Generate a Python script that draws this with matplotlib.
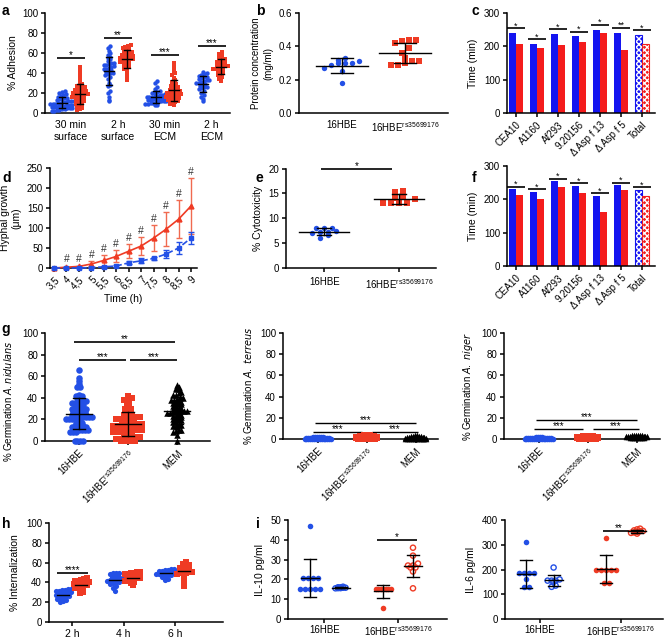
import numpy as np
import matplotlib
matplotlib.use('Agg')
import matplotlib.pyplot as plt

plt.rcParams['font.family'] = ['Liberation Sans', 'DejaVu Sans']
plt.rcParams['mathtext.default'] = 'regular'
plt.rcParams['font.size'] = 7
plt.rcParams['hatch.linewidth'] = 1.0

W, H = 669, 638
BLUE = '#2350e6'
RED = '#ef3b24'
BAR_BLUE = '#1414f0'
BAR_RED = '#f41c1c'
RS = '16HBE$^{rs35699176}$'

# ---- a: adhesion
adh_groups = ['30 min\nsurface', '2 h\nsurface', '30 min\nECM', '2 h\nECM']
adh_blue = [
    [22, 21, 20, 19, 18, 17, 16, 15, 15, 14, 13, 12, 12, 11, 11, 10, 10, 9, 9, 8,
     8, 8, 7, 7, 6, 6, 6, 5, 5, 4, 4, 3, 3, 2, 2, 12, 14, 9, 7, 5],
    [67, 65, 62, 60, 58, 56, 55, 54, 52, 50, 49, 48, 47, 46, 45, 44, 43, 42, 41, 40,
     39, 38, 36, 34, 30, 28, 27, 22, 20, 16, 13, 12, 48, 44, 50, 40],
    [32, 30, 26, 24, 22, 21, 20, 19, 18, 18, 17, 17, 16, 16, 15, 15, 14, 14, 13, 13,
     12, 12, 11, 11, 10, 10, 9, 9, 8, 8, 20, 16, 14, 12],
    [41, 40, 39, 38, 37, 36, 35, 34, 33, 32, 31, 30, 29, 28, 27, 26, 25, 24, 22, 20,
     18, 16, 14, 12, 36, 33, 30, 26],
]
adh_red = [
    [46, 42, 38, 34, 31, 29, 28, 27, 26, 25, 24, 23, 22, 22, 21, 20, 20, 19, 18, 18,
     17, 16, 15, 14, 13, 12, 11, 10, 9, 8, 7, 6, 5, 4, 3, 24, 19, 16, 13, 21],
    [68, 67, 66, 65, 64, 63, 62, 61, 60, 59, 58, 57, 56, 56, 55, 55, 54, 54, 53, 52,
     51, 50, 49, 48, 47, 46, 44, 42, 38, 34, 33, 60, 57, 52],
    [50, 46, 42, 40, 38, 35, 33, 31, 29, 28, 27, 26, 25, 24, 23, 22, 21, 20, 20, 19,
     18, 18, 17, 16, 16, 15, 14, 13, 12, 11, 10, 9, 8, 22, 19, 15, 13, 20],
    [61, 59, 57, 55, 54, 53, 52, 51, 50, 49, 48, 47, 46, 45, 45, 44, 43, 42, 41, 40,
     39, 38, 36, 34, 32, 47, 44, 50],
]
adh_sig = ['*', '**', '***', '***']

# ---- b: protein
prot_blue = [0.32, 0.30, 0.30, 0.30, 0.31, 0.33, 0.27, 0.25, 0.18, 0.29]
prot_red = [0.43, 0.44, 0.44, 0.42, 0.39, 0.36, 0.33, 0.31, 0.29, 0.29, 0.30, 0.31]

# ---- c / f: germination time
strains = ['CEA10', 'A1160', 'Af293', '9.20156', 'Δ Asp f 13', 'Δ Asp f 5', 'Total']
c_blue = [240, 207, 237, 230, 250, 241, 234]
c_red = [207, 196, 203, 212, 240, 190, 207]
c_sig = ['*', '*', '*', '*', '*', '**', '*']
f_blue = [230, 222, 254, 240, 210, 242, 228]
f_red = [214, 200, 237, 219, 162, 229, 209]
f_sig = ['*', '*', '*', '*', '*', '*', '*']

# ---- d: hyphal growth
times = [3.5, 4, 4.5, 5, 5.5, 6, 6.5, 7, 7.5, 8, 8.5, 9]
time_labels = ['3,5', '4', '4,5', '5', '5,5', '6', '6,5', '7', '7,5', '8', '8,5', '9']
hyph_red = [0, 2, 4, 10, 19, 29, 42, 55, 75, 97, 122, 155]
hyph_red_sd = [0, 1, 2, 8, 13, 15, 18, 23, 32, 42, 48, 70]
hyph_blue = [0, 0, 0, 1, 3, 5, 13, 18, 24, 35, 50, 75]
hyph_blue_sd = [0, 0, 0, 1, 2, 2, 4, 6, 3, 11, 16, 15]

# ---- e: cytotoxicity
cyto_blue = [7.3, 8.0, 8.0, 7.0, 7.5, 8.0, 7.2, 6.5, 6.0]
cyto_red = [13.8, 15.2, 14.5, 15.5, 14.0, 13.0, 13.0, 13.0, 13.0]

# ---- g: germination
germ_cats = ['16HBE', RS, 'MEM']
nid_blue = [66, 58, 56, 53, 50, 50, 43, 42, 42, 42, 40, 40, 37, 37, 37, 35, 35, 35,
            33, 33, 33, 33, 30, 30, 30, 30, 30, 30, 27, 27, 27, 27, 27, 24, 24, 24,
            24, 24, 24, 22, 22, 22, 22, 20, 20, 20, 20, 20, 20, 17, 17, 17, 14, 14,
            14, 14, 13, 13, 13, 13, 13, 13, 10, 10, 10, 10, 8, 8, 8, 0, 0, 0, 0]
nid_red = [42, 40, 40, 38, 38, 36, 36, 33, 33, 30, 30, 30, 27, 27, 27, 24, 24, 24,
           24, 22, 22, 22, 22, 20, 20, 20, 20, 20, 18, 18, 18, 18, 18, 16, 16, 16,
           16, 16, 14, 14, 14, 14, 14, 14, 12, 12, 12, 12, 12, 10, 10, 10, 10, 10,
           10, 8, 8, 8, 8, 8, 6, 6, 6, 6, 4, 4, 4, 4, 4, 2, 2, 2, 2, 0, 0, 0, 0, 0, 0]
nid_mem = [52, 50, 49, 48, 48, 45, 44, 43, 43, 40, 40, 39, 38, 38, 36, 36, 35, 35,
           34, 34, 32, 32, 31, 31, 30, 30, 28, 28, 28, 27, 27, 27, 26, 26, 24, 24,
           23, 23, 22, 22, 20, 20, 19, 19, 18, 18, 15, 15, 14, 14, 13, 10, 10, 9, 8,
           6, 0]
ter_blue = [0, 0, 0, 0, 0, 0, 0, 0, 0, 0, 0, 0, 0, 0, 0, 1, 1, 1, 1, 1, 1, 1, 1, 1,
            1, 1, 1, 1, 2, 2, 2, 2, 2, 2]
ter_red = [0, 0, 0, 0, 0, 0, 0, 0, 0, 0, 1, 1, 1, 1, 1, 1, 1, 1, 1, 1, 1, 1, 2, 2, 2,
           2, 2, 2, 2, 2, 2, 2, 2, 2, 3, 3, 3, 3, 3, 3, 3, 3, 4, 4, 4, 4]
ter_mem = [0, 0, 0, 0, 0, 0, 0, 0, 0, 0, 0, 0, 1, 1, 1, 1, 1, 1, 1, 1, 1, 1, 1, 1, 2,
           2, 2, 2, 2, 2, 2, 2, 2, 2, 3, 3, 3, 3, 3, 3, 4, 4]
nig_blue = [0, 0, 0, 0, 0, 0, 0, 0, 0, 0, 0, 0, 0, 0, 0, 0, 1, 1, 1, 1, 1, 1, 1, 1, 1,
            1, 1, 1, 1, 1, 2, 2, 2, 2]
nig_red = [0, 0, 0, 0, 0, 0, 0, 0, 0, 0, 1, 1, 1, 1, 1, 1, 1, 1, 1, 1, 1, 1, 2, 2, 2,
           2, 2, 2, 2, 2, 2, 2, 2, 2, 3, 3, 3, 3, 3, 3]
nig_mem = [1, 1, 1, 1, 1, 1, 1, 1, 2, 2, 2, 2, 2, 2, 2, 2, 2, 2, 2, 2, 3, 3, 3, 3, 3,
           3, 3, 3, 3, 3, 3, 3, 4, 4, 4, 4, 4, 4]

# ---- h: internalization
int_groups = ['2 h', '4 h', '6 h']
int_blue = [
    [33, 33, 32, 32, 31, 30, 30, 29, 28, 28, 27, 26, 25, 24, 23, 22, 21, 20, 31, 26],
    [50, 50, 49, 48, 47, 46, 45, 44, 44, 43, 43, 42, 41, 40, 40, 39, 38, 36, 34, 31],
    [54, 54, 53, 53, 52, 52, 51, 51, 50, 50, 49, 49, 48, 48, 47, 47, 46, 45, 43, 42],
]
int_red = [
    [44, 43, 42, 41, 40, 40, 39, 39, 38, 38, 37, 37, 36, 35, 34, 33, 32, 30, 29, 41],
    [51, 51, 50, 49, 48, 48, 47, 46, 46, 45, 45, 44, 44, 43, 42, 42, 41, 40, 39, 37],
    [61, 59, 58, 57, 56, 55, 54, 53, 52, 52, 51, 51, 50, 50, 49, 48, 47, 44, 39, 36],
]

# ---- i: cytokines (filled = first, open = second)
il10_blue_f = [47, 20.5, 20.5, 20.5, 20.5, 15.3, 15.3, 15.3, 15.3, 15.3]
il10_blue_o = [16.3, 16, 16, 15.8, 15.8, 15.6, 15.6, 15.5]
il10_red_f = [15.2, 15.2, 15.2, 15.2, 15.2, 15.2, 15.2, 5.7]
il10_red_o = [36, 32, 28, 27, 27, 26, 26, 24, 15.5]
il6_blue_f = [310, 185, 185, 185, 185, 160, 130, 128]
il6_blue_o = [208, 160, 155, 155, 150, 155, 135, 130]
il6_red_f = [328, 200, 200, 200, 200, 200, 145, 145]
il6_red_o = [365, 362, 358, 356, 355, 352, 350, 348, 345]


fig = plt.figure(figsize=(W / 100, H / 100), dpi=100)


def make_ax(box, xlim, ylim, yticks):
    l, t, r, b = box
    ax = fig.add_axes([l / W, 1 - b / H, (r - l) / W, (b - t) / H])
    ax.set_xlim(xlim)
    ax.set_ylim(ylim)
    ax.set_yticks(yticks)
    ax.spines['top'].set_visible(False)
    ax.spines['right'].set_visible(False)
    ax.spines['left'].set_linewidth(1.1)
    ax.spines['bottom'].set_linewidth(1.1)
    ax.tick_params(length=3, width=1.1, pad=2, labelsize=7)
    return ax


def unit(ax):
    bb = ax.get_position()
    x0, x1 = ax.get_xlim()
    y0, y1 = ax.get_ylim()
    return (x1 - x0) / (bb.width * W), (y1 - y0) / (bb.height * H)


def swarm(ax, xc, vals, color, marker='o', s=10, dx=3, dy=3, hollow=False):
    ux, uy = unit(ax)
    v = np.sort(np.asarray(vals, float))
    rows = np.round(v / (dy * uy)).astype(int)
    xs = np.zeros_like(v)
    for r in np.unique(rows):
        idx = np.where(rows == r)[0]
        xs[idx] = xc + (np.arange(len(idx)) - (len(idx) - 1) / 2) * dx * ux
    if hollow:
        ax.scatter(xs, v, s=s, marker=marker, facecolors='none', edgecolors=color,
                   linewidths=1, clip_on=False, zorder=3)
    else:
        ax.scatter(xs, v, s=s, marker=marker, color=color, lw=0, clip_on=False, zorder=3)


def mean_sd(ax, xc, vals, wm=5, wc=3, sd=True, lw=1):
    ux, _ = unit(ax)
    m = np.mean(vals)
    s = np.std(vals, ddof=1)
    ax.plot([xc - wm * ux, xc + wm * ux], [m, m], color='k', lw=lw, zorder=4)
    if sd:
        ax.plot([xc, xc], [m - s, m + s], color='k', lw=lw, zorder=4)
        for y in (m - s, m + s):
            ax.plot([xc - wc * ux, xc + wc * ux], [y, y], color='k', lw=lw, zorder=4)


def sig(ax, x1, x2, y, label, fs=7, lw=1.2):
    ax.plot([x1, x2], [y, y], color='k', lw=lw, clip_on=False, solid_capstyle='butt')
    ax.annotate(label, ((x1 + x2) / 2, y), xytext=(0, -1.5), textcoords='offset points',
                ha='center', va='bottom', fontsize=fs, annotation_clip=False)


def letter(x, y, s):
    fig.text(x / W, 1 - y / H, s, fontsize=10, fontweight='bold', va='top')


# ---------------- a
ax = make_ax((45, 13, 230, 113), (-0.55, 3.39), (0, 100), [0, 20, 40, 60, 80, 100])
sig_y = [55, 75, 58, 67]
for i in range(4):
    swarm(ax, i - 0.19, adh_blue[i], BLUE, 'o', s=10, dx=2.6, dy=3.5)
    swarm(ax, i + 0.19, adh_red[i], RED, 's', s=9, dx=2.6, dy=3.5)
    mean_sd(ax, i - 0.19, adh_blue[i], wm=5, wc=3)
    mean_sd(ax, i + 0.19, adh_red[i], wm=5, wc=3)
    sig(ax, i - 0.3, i + 0.3, sig_y[i], adh_sig[i])
ax.set_xticks(range(4))
ax.set_xticklabels(adh_groups, fontsize=7.5)
ax.tick_params(axis='x', length=0, pad=5)
ax.set_ylabel('% Adhesion', fontsize=7.5, labelpad=3)
letter(2, 4, 'a')

# ---------------- b
ax = make_ax((299, 13, 448, 113), (-0.68, 1.68), (0, 0.6), [0, 0.2, 0.4, 0.6])
swarm(ax, 0, prot_blue, BLUE, 'o', s=15, dx=7, dy=8)
swarm(ax, 1, prot_red, RED, 's', s=14, dx=7, dy=8)
mean_sd(ax, 0, prot_blue, wm=26, wc=11)
mean_sd(ax, 1, prot_red, wm=26, wc=11)
ax.set_xticks([0, 1])
ax.set_xticklabels(['16HBE', RS])
ax.tick_params(axis='x', length=0, pad=5)
ax.set_ylabel('Protein concentration\n(mg/ml)', fontsize=7)
letter(256, 4, 'b')


# ---------------- c / f
def bars(box, bv, rv, labels_sig, add):
    ax = make_ax(box, (-0.43, 6.62), (0, 300), [0, 100, 200, 300])
    x = np.arange(len(strains))
    ax.bar(x[:-1] - 0.17, bv[:-1], 0.32, color=BAR_BLUE, lw=0)
    ax.bar(x[:-1] + 0.17, rv[:-1], 0.32, color=BAR_RED, lw=0)
    ax.bar(x[-1] - 0.17, bv[-1], 0.32, color=BAR_BLUE, edgecolor='white', hatch='xxxxxx', lw=0)
    ax.bar(x[-1] + 0.17, rv[-1], 0.32, color=BAR_RED, edgecolor='white', hatch='xxxxxx', lw=0)
    ax.bar(x[-1] - 0.17, bv[-1], 0.32, fill=False, edgecolor=BAR_BLUE, lw=0.8)
    ax.bar(x[-1] + 0.17, rv[-1], 0.32, fill=False, edgecolor=BAR_RED, lw=0.8)
    for k in range(len(strains)):
        sig(ax, k - 0.42, k + 0.42, max(bv[k], rv[k]) + add, labels_sig[k], fs=6.5)
    ax.set_xticks(x)
    ax.set_xticklabels(strains, rotation=45, ha='right', rotation_mode='anchor')
    ax.set_ylabel('Time (min)', fontsize=7.5)
    return ax


bars((507, 13, 655, 113), c_blue, c_red, c_sig, 14)
letter(472, 4, 'c')
bars((507, 166, 655, 266), f_blue, f_red, f_sig, 8)
letter(472, 171, 'f')

# ---------------- d
ax = make_ax((50, 168, 197, 268), (3.34, 9.24), (0, 250), [0, 50, 100, 150, 200, 250])
ax.errorbar(times, hyph_red, yerr=hyph_red_sd, color=RED, ecolor='#f06a50', lw=1.2,
            marker='^', ms=3.5, capsize=2.5, elinewidth=1, clip_on=False, zorder=3)
ax.errorbar(times, hyph_blue, yerr=hyph_blue_sd, color=BLUE, lw=1.2, ls='--',
            marker='s', ms=3.5, capsize=2.5, elinewidth=1, clip_on=False, zorder=4)
for t, m, s in zip(times[1:], hyph_red[1:], hyph_red_sd[1:]):
    ax.text(t, max(m + s + 15, 22), '#', ha='center', va='center', fontsize=7.5,
            color='#333333', clip_on=False)
ax.set_xticks(times)
ax.set_xticklabels(time_labels, rotation=45, ha='right', rotation_mode='anchor')
ax.set_xlabel('Time (h)', fontsize=7.5, labelpad=2)
ax.set_ylabel('Hyphal growth\n(μm)', fontsize=7.5)
letter(2, 171, 'd')

# ---------------- e
ax = make_ax((286, 168.6, 436, 267.7), (-0.51, 1.49), (0, 20), [0, 5, 10, 15, 20])
swarm(ax, 0, cyto_blue, BLUE, 'o', s=15, dx=8, dy=6)
swarm(ax, 1, cyto_red, RED, 's', s=14, dx=8, dy=6)
mean_sd(ax, 0, cyto_blue, wm=25, wc=7)
mean_sd(ax, 1, cyto_red, wm=25, wc=7)
sig(ax, -0.04, 0.9, 20, '*')
ax.set_xticks([0, 1])
ax.set_xticklabels(['16HBE', RS])
ax.tick_params(axis='x', pad=4)
ax.set_ylabel('% Cytotoxicity', fontsize=7.5)
letter(256, 171, 'e')


# ---------------- g
def germ(box, xlim, b, r, m, ylabel, big):
    ax = make_ax(box, xlim, (0, 100), [0, 20, 40, 60, 80, 100])
    if big:
        swarm(ax, 0, b, BLUE, 'o', s=22, dx=2.9, dy=3.2)
        swarm(ax, 1, r, RED, 's', s=19, dx=2.9, dy=3.2)
        swarm(ax, 2, m, 'black', '^', s=22, dx=2.9, dy=3.2)
        for k, v in enumerate([b, r, m]):
            mean_sd(ax, k, v, wm=13, wc=6)
    else:
        swarm(ax, 0, b, BLUE, 'o', s=16, dx=1.9, dy=1.0)
        swarm(ax, 1, r, RED, 's', s=14, dx=1.9, dy=1.0)
        swarm(ax, 2, m, 'black', '^', s=16, dx=1.9, dy=1.0)
    ax.set_xticks([0, 1, 2])
    ax.set_xticklabels(germ_cats, rotation=45, ha='right', rotation_mode='anchor')
    ax.set_ylabel(ylabel, fontsize=7)
    return ax


ax = germ((45, 333, 210, 441), (-0.69, 2.67), nid_blue, nid_red, nid_mem,
          '% Germination $\\mathit{A.nidulans}$', True)
ax.yaxis.set_label_coords(-0.19, 0.37)
sig(ax, 0, 0.95, 75, '***')
sig(ax, 1.05, 2, 75, '***')
sig(ax, -0.1, 1.95, 92, '**')
letter(1, 322, 'g')

ax = germ((283, 333, 438, 439), (-0.71, 2.45), ter_blue, ter_red, ter_mem,
          '% Germination $\\mathit{A.}$ $\\mathit{terreus}$', False)
sig(ax, -0.1, 0.9, 6.3, '***', lw=1)
sig(ax, 1.1, 2.05, 6.8, '***', lw=1)
sig(ax, -0.05, 2.0, 15, '***', lw=1)

ax = germ((504, 333, 660, 439), (-0.71, 2.47), nig_blue, nig_red, nig_mem,
          '% Germination $\\mathit{A.}$ $\\mathit{niger}$', False)
sig(ax, -0.1, 0.9, 9, '***', lw=1)
sig(ax, 1.1, 2.05, 9.4, '***', lw=1)
sig(ax, -0.05, 2.0, 18, '***', lw=1)

# ---------------- h
ax = make_ax((49, 523, 223, 622), (-0.45, 2.93), (0, 100), [0, 20, 40, 60, 80, 100])
for i in range(3):
    swarm(ax, i - 0.175, int_blue[i], BLUE, 'o', s=14, dx=3, dy=3.5)
    swarm(ax, i + 0.175, int_red[i], RED, 's', s=13, dx=3, dy=3.5)
    mean_sd(ax, i - 0.175, int_blue[i], wm=6, sd=False)
    mean_sd(ax, i + 0.175, int_red[i], wm=6, sd=False)
sig(ax, -0.3, 0.3, 49, '****')
ax.set_xticks(range(3))
ax.set_xticklabels(int_groups, fontsize=7.5)
ax.tick_params(axis='x', pad=2)
ax.set_ylabel('% Internalization', fontsize=7.5)
letter(2, 517, 'h')

# ---------------- i
ax = make_ax((288, 520, 447, 619), (-0.49, 1.66), (0, 50), [0, 10, 20, 30, 40, 50])
swarm(ax, -0.19, il10_blue_f, BLUE, 'o', s=16, dx=5, dy=3)
swarm(ax, 0.22, il10_blue_o, BLUE, 'o', s=14, dx=2.5, dy=3, hollow=True)
swarm(ax, 0.8, il10_red_f, RED, 'o', s=16, dx=2.5, dy=3)
swarm(ax, 1.2, il10_red_o, RED, 'o', s=14, dx=5, dy=3, hollow=True)
mean_sd(ax, -0.19, il10_blue_f, wm=9, wc=6)
mean_sd(ax, 0.22, il10_blue_o, wm=9, wc=6)
mean_sd(ax, 0.8, il10_red_f, wm=9, wc=6)
mean_sd(ax, 1.2, il10_red_o, wm=9, wc=6)
sig(ax, 0.72, 1.25, 40, '*')
ax.set_xticks([0, 1])
ax.set_xticklabels(['16HBE', RS])
ax.tick_params(axis='x', pad=1)
ax.set_ylabel('IL-10 pg/ml', fontsize=7.5)
letter(256, 517, 'i')

ax = make_ax((505, 520, 663, 619), (-0.43, 1.52), (0, 400), [0, 100, 200, 300, 400])
swarm(ax, -0.17, il6_blue_f, BLUE, 'o', s=16, dx=5, dy=3)
swarm(ax, 0.17, il6_blue_o, BLUE, 'o', s=14, dx=4, dy=3, hollow=True)
swarm(ax, 0.82, il6_red_f, RED, 'o', s=16, dx=5, dy=3)
swarm(ax, 1.2, il6_red_o, RED, 'o', s=14, dx=3, dy=3, hollow=True)
mean_sd(ax, -0.17, il6_blue_f, wm=9, wc=6)
mean_sd(ax, 0.17, il6_blue_o, wm=9, wc=6)
mean_sd(ax, 0.82, il6_red_f, wm=9, wc=6)
mean_sd(ax, 1.2, il6_red_o, wm=9, wc=6)
sig(ax, 0.78, 1.17, 357, '**')
ax.set_xticks([0, 1])
ax.set_xticklabels(['16HBE', RS])
ax.tick_params(axis='x', pad=1)
ax.set_ylabel('IL-6 pg/ml', fontsize=7.5)

fig.savefig('out.png', dpi=100)
